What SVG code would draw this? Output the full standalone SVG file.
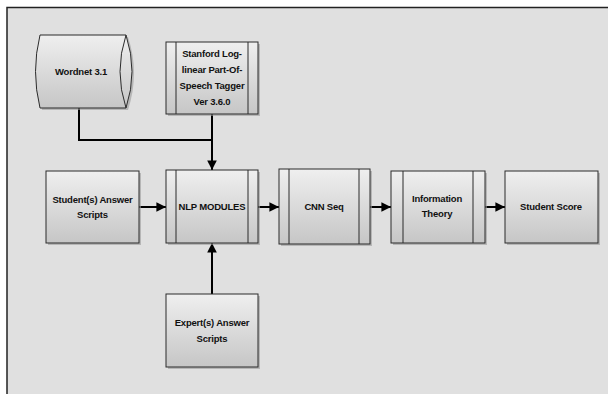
<svg xmlns="http://www.w3.org/2000/svg" width="608" height="394" viewBox="0 0 608 394">
<style>
.bx{fill:url(#g);stroke:#2b2b2b;stroke-width:1}
.sh{fill:#9a9a9a;opacity:0.6}
.in{stroke:#2b2b2b;stroke-width:1;fill:none}
.t{font-family:"Liberation Sans",Arial,sans-serif;font-weight:bold;font-size:9.5px;letter-spacing:-0.2px;fill:#111;text-anchor:middle}
.c{stroke:#000;stroke-width:2;fill:none}
</style>
<defs>
<linearGradient id="g" x1="0" y1="0" x2="0" y2="1">
<stop offset="0" stop-color="#efefef"/>
<stop offset="1" stop-color="#c6c6c6"/>
</linearGradient>
<marker id="ah" viewBox="0 0 10 10" refX="10" refY="5" markerWidth="4.8" markerHeight="4.8" orient="auto" markerUnits="strokeWidth">
<path d="M0,0 L10,5 L0,10 z" fill="#000"/>
</marker>
</defs>
<rect x="0" y="0" width="608" height="394" fill="#fff"/>
<rect x="7" y="7.5" width="610" height="400" fill="#e0e0e0" stroke="#222" stroke-width="1.5"/>

<g id="connectors">
<path class="c" d="M79,108 V140 H212"/>
<path class="c" d="M212,114 V170" marker-end="url(#ah)"/>
<path class="c" d="M139,207 H166" marker-end="url(#ah)"/>
<path class="c" d="M258,207 H279" marker-end="url(#ah)"/>
<path class="c" d="M370,207 H391" marker-end="url(#ah)"/>
<path class="c" d="M485,207 H505" marker-end="url(#ah)"/>
<path class="c" d="M212,294 V243" marker-end="url(#ah)"/>
</g>

<g id="wordnet">
<path class="sh" d="M42,37 H128 Q140,73 128,110 H42 Q34,73 42,37 z"/>
<path class="bx" d="M40,35 H126 Q138,71.5 126,108 H40 Q31,71.5 40,35 z"/>
<path class="in" d="M126,35 Q114,71.5 126,108"/>
<text class="t" x="81" y="75">Wordnet 3.1</text>
</g>

<g id="stanford">
<rect class="sh" x="168" y="44" width="92" height="72"/>
<rect class="bx" x="166" y="42" width="92" height="72"/>
<line class="in" x1="176" y1="42" x2="176" y2="114"/>
<line class="in" x1="248" y1="42" x2="248" y2="114"/>
<text class="t" x="212" y="57">Stanford Log-</text>
<text class="t" x="212" y="73">linear Part-Of-</text>
<text class="t" x="212" y="89">Speech Tagger</text>
<text class="t" x="212" y="105">Ver 3.6.0</text>
</g>

<g id="student">
<rect class="sh" x="48" y="173" width="93" height="72"/>
<rect class="bx" x="46" y="171" width="93" height="72"/>
<text class="t" x="92.5" y="203">Student(s) Answer</text>
<text class="t" x="92.5" y="218">Scripts</text>
</g>

<g id="nlp">
<rect class="sh" x="168" y="172" width="92" height="73"/>
<rect class="bx" x="166" y="170" width="92" height="73"/>
<line class="in" x1="176" y1="170" x2="176" y2="243"/>
<line class="in" x1="248" y1="170" x2="248" y2="243"/>
<text class="t" x="212" y="210">NLP MODULES</text>
</g>

<g id="cnn">
<rect class="sh" x="281" y="171" width="91" height="75"/>
<rect class="bx" x="279" y="169" width="91" height="75"/>
<line class="in" x1="289" y1="169" x2="289" y2="244"/>
<line class="in" x1="359" y1="169" x2="359" y2="244"/>
<text class="t" x="324" y="210">CNN Seq</text>
</g>

<g id="info">
<rect class="sh" x="393" y="173" width="94" height="72"/>
<rect class="bx" x="391" y="171" width="94" height="72"/>
<line class="in" x1="403" y1="171" x2="403" y2="243"/>
<line class="in" x1="473" y1="171" x2="473" y2="243"/>
<text class="t" x="437" y="202">Information</text>
<text class="t" x="437" y="217">Theory</text>
</g>

<g id="score">
<rect class="sh" x="507" y="173" width="93" height="72"/>
<rect class="bx" x="505" y="171" width="93" height="72"/>
<text class="t" x="551" y="210">Student Score</text>
</g>

<g id="expert">
<rect class="sh" x="168" y="296" width="92" height="73"/>
<rect class="bx" x="166" y="294" width="92" height="73"/>
<text class="t" x="212" y="326">Expert(s) Answer</text>
<text class="t" x="212" y="342">Scripts</text>
</g>
</svg>
